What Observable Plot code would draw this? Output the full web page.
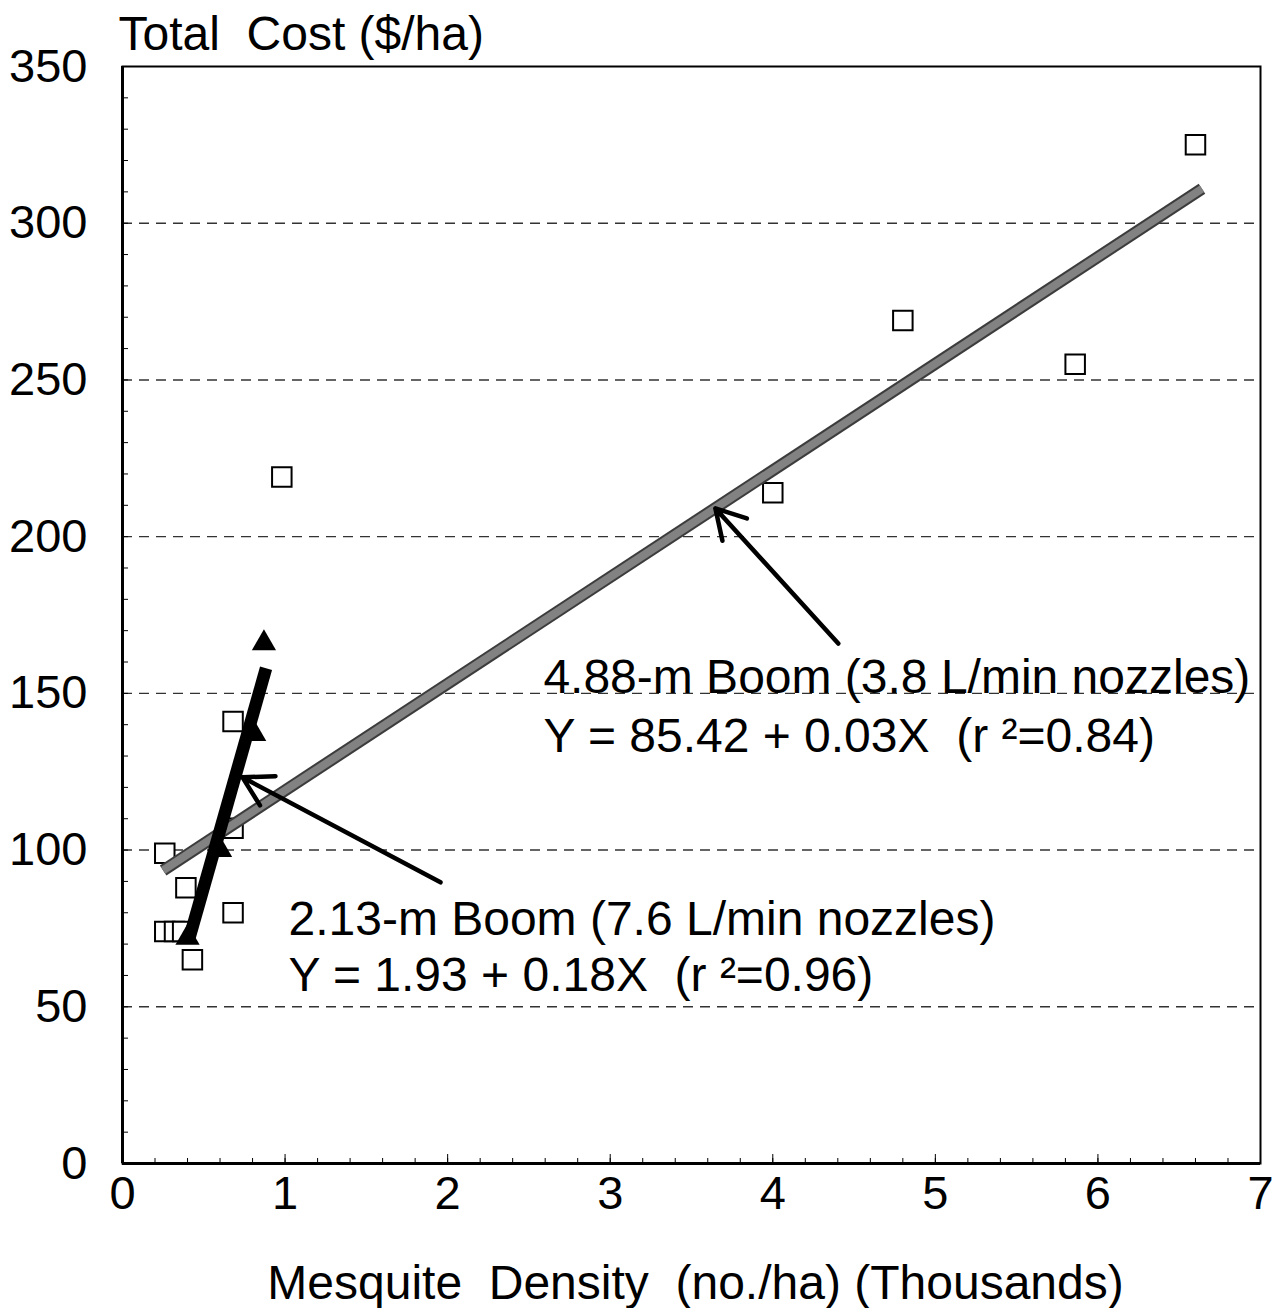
<!DOCTYPE html>
<html>
<head>
<meta charset="utf-8">
<script src="https://cdn.jsdelivr.net/npm/d3@7"></script>
<script src="https://cdn.jsdelivr.net/npm/@observablehq/plot@0.6"></script>
<style>
  html, body { margin: 0; padding: 0; background: white; }
  svg text { white-space: pre; }
</style>
</head>
<body>
<div id="chart"></div>
<script>
// 4.88-m boom observations (open squares)
const wideX = [0.26, 0.39, 0.26, 0.32, 0.37, 0.43, 0.68, 0.68, 0.68, 0.98, 4.00, 4.80, 5.86, 6.60];
const wideY = [99, 88, 74, 74, 74, 65, 80, 107, 141, 219, 214, 269, 255, 325];
// 2.13-m boom observations (filled triangles)
const narrowX = [0.40, 0.60, 0.81, 0.87];
const narrowY = [72, 100, 137, 166];
// fitted lines (endpoints as drawn)
const wideFitX = [0.25, 6.64];
const wideFitY = [93.5, 311];
const narrowFitX = [0.406, 0.883];
const narrowFitY = [71, 158];
// arrows: tail -> head
const arrowX1 = [4.403, 1.956];
const arrowY1 = [165.9, 89.7];
const arrowX2 = [3.647, 0.738];
const arrowY2 = [209.0, 123.2];
// annotation text
const annoText = [
  "4.88-m Boom (3.8 L/min nozzles)",
  "Y = 85.42 + 0.03X  (r ²=0.84)",
  "2.13-m Boom (7.6 L/min nozzles)",
  "Y = 1.93 + 0.18X  (r ²=0.96)"
];
const annoX = [2.589, 2.589, 1.021, 1.021];
const annoY = [154.9, 136.2, 77.9, 60.0];
// axes
const xTicks = [0, 1, 2, 3, 4, 5, 6, 7];
const yTicks = [0, 50, 100, 150, 200, 250, 300, 350];
const gridY = [50, 100, 150, 200, 250, 300];
const xMinor = d3.range(0, 36).map(i => i / 5);
const yMinor = d3.range(0, 36).map(i => i * 10);
const yTitle = "Total  Cost ($/ha)";
const xTitle = "Mesquite  Density  (no./ha) (Thousands)";

const wide = wideX.map((x, i) => ({x, y: wideY[i]}));
const narrow = narrowX.map((x, i) => ({x, y: narrowY[i]}));
const wideFit = wideFitX.map((x, i) => ({x, y: wideFitY[i]}));
const narrowFit = narrowFitX.map((x, i) => ({x, y: narrowFitY[i]}));
const arrows = arrowX1.map((x1, i) => ({x1, y1: arrowY1[i], x2: arrowX2[i], y2: arrowY2[i]}));
const annos = annoText.map((t, i) => ({t, x: annoX[i], y: annoY[i]}));

const chart = Plot.plot({
  width: 1286,
  height: 1308,
  marginLeft: 122,
  marginRight: 26,
  marginTop: 66,
  marginBottom: 145,
  x: {domain: [0, 7], label: null},
  y: {domain: [0, 350], label: null},
  style: {fontFamily: "'Liberation Sans', Arial, sans-serif", background: "white", color: "black", overflow: "visible"},
  marks: [
    Plot.ruleY(gridY, {stroke: "#333", strokeWidth: 1.4, strokeDasharray: "10,7"}),
    Plot.frame({stroke: "black", strokeWidth: 2}),
    Plot.ruleX([0], {stroke: "black", strokeWidth: 3}),
    Plot.ruleY([0], {stroke: "black", strokeWidth: 3}),
    Plot.axisX({ticks: xMinor, tickSize: 5, dy: -5, tickFormat: () => "", label: null, strokeWidth: 1}),
    Plot.axisX({ticks: xTicks, tickSize: 9, dy: -9, tickFormat: () => "", label: null, strokeWidth: 1}),
    Plot.axisY({ticks: yMinor, tickSize: 6, dx: 6, tickFormat: () => "", label: null, strokeWidth: 1}),
    Plot.axisX({ticks: xTicks, tickSize: 0, tickPadding: 12, fontSize: 47, tickFormat: d3.format("d"), label: null}),
    Plot.axisY({ticks: yTicks, tickSize: 0, tickPadding: 35, fontSize: 47, tickFormat: d3.format("d"), label: null}),
    Plot.dot(wide, {x: "x", y: "y", symbol: "square", r: 11, stroke: "black", strokeWidth: 2, fill: "white"}),
    Plot.dot(narrow, {x: "x", y: "y", symbol: "triangle", r: 9, fill: "black", stroke: "none"}),
    Plot.line(wideFit, {x: "x", y: "y", stroke: "#3c3c3c", strokeWidth: 12, strokeLinecap: "butt"}),
    Plot.line(wideFit, {x: "x", y: "y", stroke: "#828282", strokeWidth: 8, strokeLinecap: "butt"}),
    Plot.line(narrowFit, {x: "x", y: "y", stroke: "black", strokeWidth: 12.5, strokeLinecap: "butt"}),
    Plot.arrow(arrows, {x1: "x1", y1: "y1", x2: "x2", y2: "y2", stroke: "black", strokeWidth: 4.5, headLength: 11, headAngle: 60}),
    Plot.text(annos, {x: "x", y: "y", text: "t", textAnchor: "start", lineAnchor: "middle", fontSize: 48, fill: "black"}),
    Plot.text([yTitle], {frameAnchor: "top-left", textAnchor: "start", lineAnchor: "middle", dx: -4, dy: -32, fontSize: 48, fill: "black"}),
    Plot.text([xTitle], {frameAnchor: "bottom", textAnchor: "middle", lineAnchor: "middle", dx: 4, dy: 120, fontSize: 48, fill: "black"})
  ]
});
document.getElementById("chart").appendChild(chart);
</script>
</body>
</html>
